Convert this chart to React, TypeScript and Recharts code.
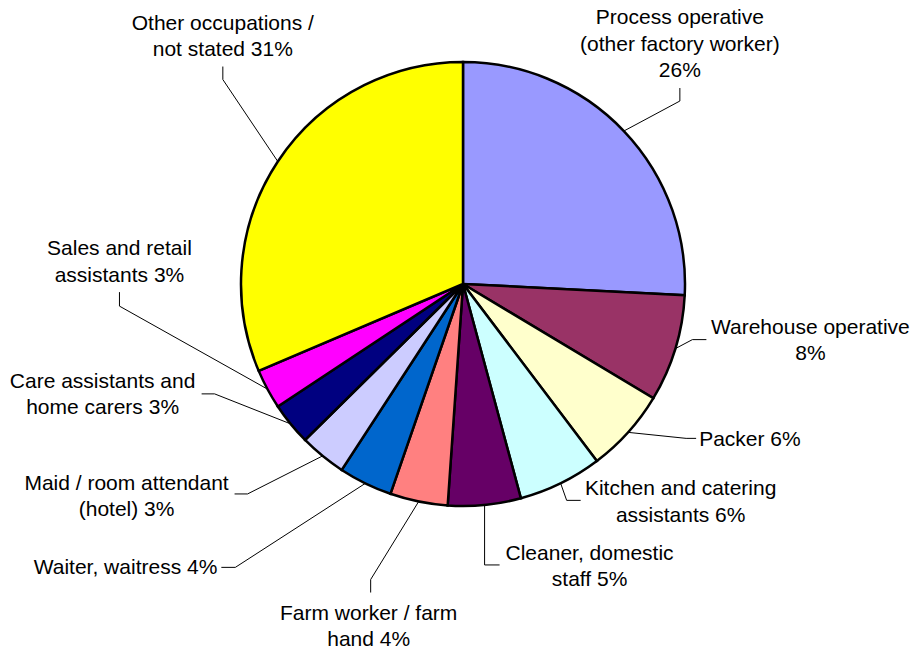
import { PieChart, Pie, Cell } from 'recharts';

// Occupations, clockwise from 12 o'clock
const categories = [
  'Process operative (other factory worker)',
  'Warehouse operative',
  'Packer',
  'Kitchen and catering assistants',
  'Cleaner, domestic staff',
  'Farm worker / farm hand',
  'Waiter, waitress',
  'Maid / room attendant (hotel)',
  'Care assistants and home carers',
  'Sales and retail assistants',
  'Other occupations / not stated',
];

const shares = [25.8, 7.8, 6.1, 6.1, 5.3, 4.2, 3.9, 3.4, 3.1, 2.9, 31.4];

// label text split into lines, percentage goes on the end of the last line
const labelLines = [
  ['Process operative', '(other factory worker)', ''],
  ['Warehouse operative', ''],
  ['Packer'],
  ['Kitchen and catering', 'assistants'],
  ['Cleaner, domestic', 'staff'],
  ['Farm worker / farm', 'hand'],
  ['Waiter, waitress'],
  ['Maid / room attendant', '(hotel)'],
  ['Care assistants and', 'home carers'],
  ['Sales and retail', 'assistants'],
  ['Other occupations /', 'not stated'],
];

const colors = [
  '#9999FF', '#993366', '#FFFFCC', '#CCFFFF', '#660066', '#FF8080',
  '#0066CC', '#CCCCFF', '#000080', '#FF00FF', '#FFFF00',
];

// leader line / label placement, offsets from the slice's outer edge point
// elbow, end of line, text anchor point (first line centre), text-anchor
const labelLayout = [
  { elbow: [56, -30], end: [56, -43], text: [56, -115], anchor: 'middle' },
  { elbow: [17, -9], end: [31, -9], text: [135, -23], anchor: 'middle' },
  { elbow: [58, 6], end: [68, 6], text: [71, 6], anchor: 'start' },
  { elbow: [6, 17], end: [20, 17], text: [120, 4], anchor: 'middle' },
  { elbow: [0, 60], end: [15, 60], text: [105, 47], anchor: 'middle' },
  { elbow: [-48, 78], end: [-48, 91], text: [-50, 110], anchor: 'middle' },
  { elbow: [-130, 84], end: [-144, 84], text: [-148, 83], anchor: 'end' },
  { elbow: [-75, 38], end: [-88, 38], text: [-196, 26], anchor: 'middle' },
  { elbow: [-76, -30], end: [-89, -30], text: [-188, -44], anchor: 'middle' },
  { elbow: [-148, -83], end: [-148, -97], text: [-148, -142], anchor: 'middle' },
  { elbow: [-55, -82], end: [-55, -95], text: [-55, -140], anchor: 'middle' },
];

const data = categories.map((name, i) => ({ name, value: shares[i] }));

const RADIAN = Math.PI / 180;
const LINE_H = 26.5;

function renderLabel(props: any) {
  const { cx, cy, midAngle, outerRadius, percent, index } = props;
  const ex = cx + outerRadius * Math.cos(-midAngle * RADIAN);
  const ey = cy + outerRadius * Math.sin(-midAngle * RADIAN);
  const lay = labelLayout[index];
  const pct = `${Math.round(percent * 100)}%`;
  const lines = labelLines[index].slice();
  const last = lines.length - 1;
  lines[last] = lines[last] ? `${lines[last]} ${pct}` : pct;

  return (
    <g key={`lbl-${index}`}>
      <polyline
        points={`${ex},${ey} ${ex + lay.elbow[0]},${ey + lay.elbow[1]} ${ex + lay.end[0]},${ey + lay.end[1]}`}
        fill="none"
        stroke="#000"
        strokeWidth={1}
      />
      <text
        x={ex + lay.text[0]}
        y={ey + lay.text[1]}
        textAnchor={lay.anchor as any}
        dominantBaseline="central"
        fill="#000"
        fontSize={21}
        fontFamily="'Liberation Sans', Arial, sans-serif"
      >
        {lines.map((ln, j) => (
          <tspan key={j} x={ex + lay.text[0]} y={ey + lay.text[1] + j * LINE_H}>
            {ln}
          </tspan>
        ))}
      </text>
    </g>
  );
}

export default function App() {
  return (
    <div style={{ width: 916, height: 650, background: '#fff' }}>
      <style>{'body{margin:0;}'}</style>
      <PieChart width={916} height={650} margin={{ top: 0, right: 0, bottom: 0, left: 0 }}>
        <Pie
          data={data}
          dataKey="value"
          nameKey="name"
          cx={463}
          cy={284}
          outerRadius={222}
          startAngle={90}
          endAngle={-270}
          stroke="#000"
          strokeWidth={2.5}
          label={renderLabel}
          labelLine={false}
          isAnimationActive={false}
        >
          {data.map((d, i) => (
            <Cell key={d.name} fill={colors[i]} />
          ))}
        </Pie>
      </PieChart>
    </div>
  );
}
